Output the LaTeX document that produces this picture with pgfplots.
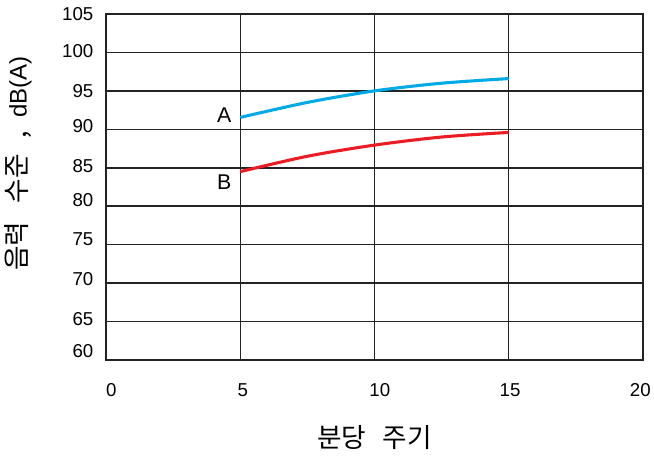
\documentclass[border=0pt]{standalone}
\usepackage{fontspec}
\setmainfont{Liberation Sans}
\newfontfamily\kr{Noto Sans CJK KR}
\usepackage{pgfplots}
\pgfplotsset{compat=1.18}
\definecolor{curveA}{RGB}{0,170,230}
\definecolor{curveB}{RGB}{236,28,36}
\definecolor{gridc}{RGB}{35,35,35}
\begin{document}
\begin{tikzpicture}
\useasboundingbox (-79.5pt,-72pt) rectangle (411pt,270pt);
\begin{axis}[
  at={(0pt,0pt)}, anchor=south west,
  scale only axis, width=402.75pt, height=259.5pt,
  xmin=0, xmax=20, ymin=60, ymax=105,
  axis line style={gridc, line width=1.7pt},
  xtick={0.2,5.1,10.2,15.05,19.9},
  xticklabels={0,5,10,15,20},
  ytick={61.18,65.34,70.54,75.68,80.81,85.23,90.44,94.99,100.19,105},
  yticklabels={60,65,70,75,80,85,90,95,100,105},
  major tick length=0pt,
  extra x ticks={5,10,15}, extra x tick labels={},
  extra y ticks={65,70,75,80,85,90,95,100}, extra y tick labels={},
  extra tick style={grid=major, major grid style={gridc, line width=1.1pt}, major tick length=0pt},
  tick label style={font=\fontsize{14}{16}\selectfont},
  /pgf/number format/assume math mode=true,
  xticklabel style={yshift=-14pt},
  yticklabel style={xshift=-6pt},
  xlabel={\kr 분당\hspace{0.6em}주기}, xlabel style={font=\fontsize{20}{22}\selectfont, yshift=-15pt},
  ylabel={{\kr\fontsize{20}{22}\selectfont 음력\hspace{0.7em}수준\hspace{0.6em},\hspace{0.5em}}dB(A)},
  ylabel style={font=\fontsize{18}{22}\selectfont, at={(ticklabel cs:0.568)}, yshift=16pt},
  clip=false,
]
\addplot[curveA, line width=2.3pt, smooth] coordinates {(5,91.55) (7.5,93.5) (10,95.0) (12.5,96.0) (15,96.6)};
\addplot[curveB, line width=2.3pt, smooth] coordinates {(5,84.5) (7.5,86.5) (10,87.95) (12.5,89.0) (15,89.6)};
\node[font=\fontsize{16}{18}\selectfont] at (axis cs:4.4,91.9) {A};
\node[font=\fontsize{16}{18}\selectfont] at (axis cs:4.4,83.1) {B};
\end{axis}
\end{tikzpicture}
\end{document}
